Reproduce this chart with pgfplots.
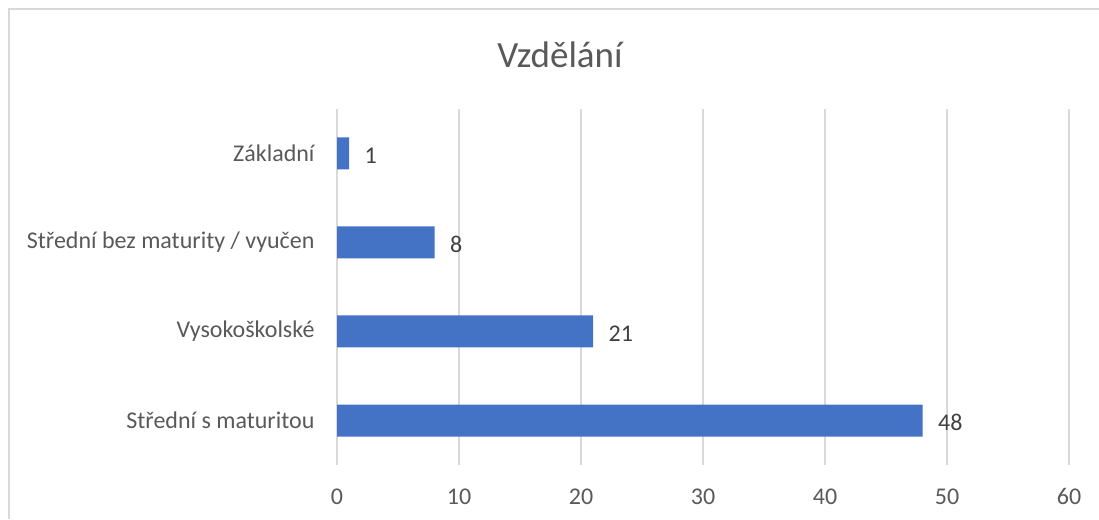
\documentclass[border=0pt]{standalone}
\usepackage{fontspec}
\setmainfont{Carlito}
\usepackage{pgfplots}
\pgfplotsset{compat=1.18}
\definecolor{barblue}{HTML}{4472C4}
\definecolor{gridgray}{HTML}{D9D9D9}
\definecolor{txtgray}{HTML}{595959}
\definecolor{lblgray}{HTML}{404040}
\begin{document}
\begin{tikzpicture}[x=1pt,y=1pt]
\useasboundingbox (0,0) rectangle (1099,519);
\draw[gridgray,line width=1.5pt] (9,0) -- (9,510) -- (1099,510);
\node[txtgray,font=\fontsize{37}{44}\selectfont] at (560,464) {Vzdělání};
\begin{axis}[
  at={(337pt,54pt)}, anchor=south west,
  scale only axis, width=732pt, height=356pt,
  xbar, bar width=32pt,
  xmin=0, xmax=60, ymin=-0.5, ymax=3.5,
  xtick={0,10,...,60},
  ytick={0,1,2,3},
  yticklabels={Střední s maturitou,Vysokoškolské,Střední bez maturity / vyučen,Základní},
  xmajorgrids, major grid style={gridgray,line width=1.2pt},
  axis line style={draw=none},
  major tick length=0pt,
  tick label style={txtgray,font=\fontsize{24}{28}\selectfont},
  /pgf/number format/assume math mode=true,
  xticklabel style={yshift=-20pt},
  yticklabel style={xshift=-19pt},
  nodes near coords,
  every node near coord/.append style={lblgray,font=\fontsize{24}{28}\selectfont,anchor=west,xshift=12pt,yshift=-2pt},
]
\addplot[fill=barblue,draw=none] coordinates {(48,0) (21,1) (8,2) (1,3)};
\end{axis}
\end{tikzpicture}
\end{document}
